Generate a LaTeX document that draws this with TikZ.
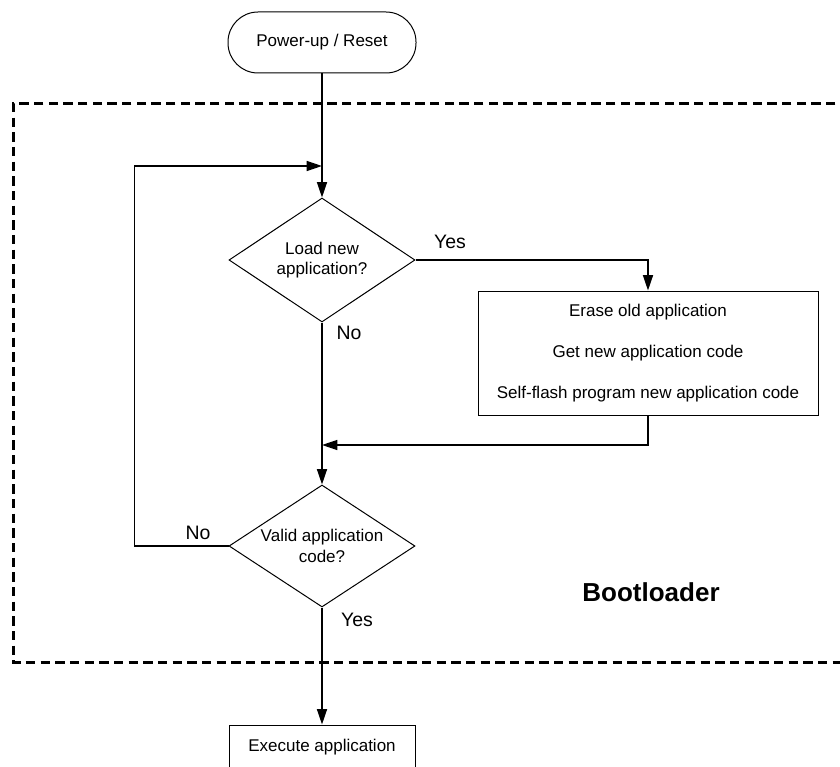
\documentclass[tikz,border=0pt]{standalone}
\usepackage{fontspec}
\setmainfont{Liberation Sans}
\usetikzlibrary{arrows.meta,shapes.geometric}
\begin{document}
\begin{tikzpicture}[x=0.75pt,y=-0.75pt,
  txt/.style={font=\fontsize{12.75}{15.3}\selectfont},
  lbl/.style={font=\fontsize{14.6}{17}\selectfont},
  terminal/.style={draw, line width=0.75pt, rounded corners=22.5pt,
    minimum width=141pt, minimum height=45.75pt, inner sep=0pt, txt},
  decision/.style={draw, diamond, aspect=1.5, inner sep=0pt,
    minimum width=139.5pt, minimum height=93pt, align=center, txt,
    line width=0.75pt},
  process/.style={draw, rectangle, line width=0.75pt, align=center, inner sep=0pt},
  link/.style={line width=1.1pt},
  flow/.style={line width=1.1pt, -{Triangle[length=11.5pt,width=7.5pt]}},
  region/.style={line width=2.25pt, dash pattern=on 7pt off 4pt}]
\clip (0,0) rectangle (840,767);

% bootloader region (open on the right)
\draw[region] (850,104) -- (13,104) -- (13,662) -- (850,662);

% nodes
\node[terminal] (start) at (322,42.5) {Power-up / Reset};
\node[decision] (load) at (322,260) {Load new\\application?};
\node[process, minimum width=255pt, minimum height=93pt,
      font=\fontsize{12.75}{31}\selectfont] (update) at (648,353)
  {Erase old application\\Get new application code\\Self-flash program new application code};
\node[decision, minimum height=91.5pt] (valid) at (322,546) {Valid application\\code?};
\node[process, txt, minimum width=139.5pt, minimum height=33pt] (run) at (322,747) {Execute application};

\coordinate (join1) at (322,166);
\coordinate (join2) at (322,445);

% connectors
\draw[link] (start.south) -- (join1);
\draw[flow] (join1) -- (load.north);
\draw[flow] (load.east) -| (update.north);
\draw[flow] (load.south) -- (valid.north);
\draw[flow] (update.south) |- (join2);
\draw[flow] (valid.west) -- ++(-94,0) |- (join1);
\draw[flow] (valid.south) -- (run.north);

% labels
\node[lbl] (yes1) at (450,242) {Yes};
\node[lbl] (no1) at (349,333) {No};
\node[lbl] (no2) at (198,533) {No};
\node[lbl] (yes2) at (357,620) {Yes};
\node[font=\bfseries\fontsize{19.5}{23}\selectfont] (title) at (651,592) {Bootloader};
\end{tikzpicture}
\end{document}
